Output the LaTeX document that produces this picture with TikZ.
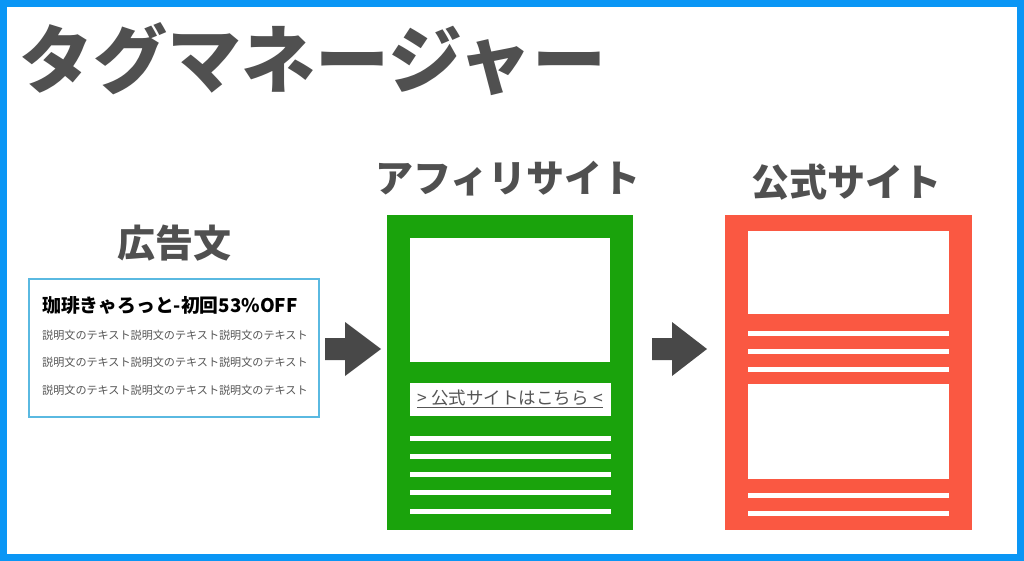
\documentclass[tikz,border=0pt]{standalone}
\usepackage{fontspec}
\newfontfamily\cjk{Noto Sans CJK JP}
\definecolor{frameblue}{RGB}{10,150,245}
\definecolor{titlegray}{RGB}{80,80,80}
\definecolor{arrowgray}{RGB}{72,72,72}
\definecolor{adblue}{RGB}{90,185,225}
\definecolor{siteGreen}{RGB}{26,163,12}
\definecolor{siteRed}{RGB}{250,88,66}
\definecolor{bodygray}{RGB}{85,85,85}
\tikzset{
  heading/.style={inner sep=0pt, text=titlegray, font=\cjk\bfseries\fontsize{38}{38}\selectfont},
  whitebar/.style={fill=white, draw=none},
  blockarrow/.style={fill=arrowgray, draw=none},
  bodyline/.style={anchor=west, inner sep=0pt, text=bodygray, font=\cjk\fontsize{11.1}{11}\selectfont},
}
\begin{document}
\begin{tikzpicture}[x=1pt,y=-1pt]
\useasboundingbox (0,0) rectangle (1024,561);
% frame
\fill[frameblue] (0,0) rectangle (1024,561);
\fill[white] (7,7) rectangle (1017,554);
% title
\node[inner sep=0pt, text=titlegray, font=\cjk\bfseries\fontsize{74}{74}\selectfont] (title) at (313,59) {タグマネージャー};
% headings
\node[heading] (adhead) at (174,243) {広告文};
\node[heading] (affhead) at (508,179) {アフィリサイト};
\node[heading] (offhead) at (846,182) {公式サイト};
% ad box
\node[draw=adblue, line width=1.8pt, minimum width=290pt, minimum height=138pt, inner sep=0pt] (ad) at (174,348) {};
\node[anchor=west, inner sep=0pt, font=\cjk\bfseries\fontsize{18.8}{19}\selectfont] (adtitle) at (42,305) {珈琲きゃろっと-初回53\%OFF};
\node[bodyline] (l1) at (42,335) {説明文のテキスト説明文のテキスト説明文のテキスト};
\node[bodyline] (l2) at (42,362) {説明文のテキスト説明文のテキスト説明文のテキスト};
\node[bodyline] (l3) at (42,390) {説明文のテキスト説明文のテキスト説明文のテキスト};
% affiliate site
\node[fill=siteGreen, minimum width=246pt, minimum height=315pt, inner sep=0pt] (aff) at (510,372.5) {};
\fill[white] (410,238) rectangle (610,362);
\node[fill=white, minimum width=201pt, minimum height=33pt, inner sep=0pt, text=bodygray, font=\cjk\fontsize{17.5}{18}\selectfont] (btn) at (510,399) {\underline{>\hspace{0.25em}公式サイトはこちら\hspace{0.25em}<}};
\foreach \y in {438,456,474,492,511}
  \fill[whitebar] (410,\y-2.5) rectangle (611,\y+2.5);
% official site
\node[fill=siteRed, minimum width=247pt, minimum height=315pt, inner sep=0pt] (off) at (848.5,372.5) {};
\fill[white] (748,231) rectangle (949,314);
\fill[white] (748,384) rectangle (949,479);
\foreach \y in {333,351,369,495,513}
  \fill[whitebar] (748,\y-2.5) rectangle (949,\y+2.5);
% arrows
\fill[blockarrow] (325,338) -- (345,338) -- (345,322) -- (381,349) -- (345,376) -- (345,360) -- (325,360) -- cycle;
\fill[blockarrow] (652,338) -- (672,338) -- (672,322) -- (707,349) -- (672,376) -- (672,360) -- (652,360) -- cycle;
\end{tikzpicture}
\end{document}
